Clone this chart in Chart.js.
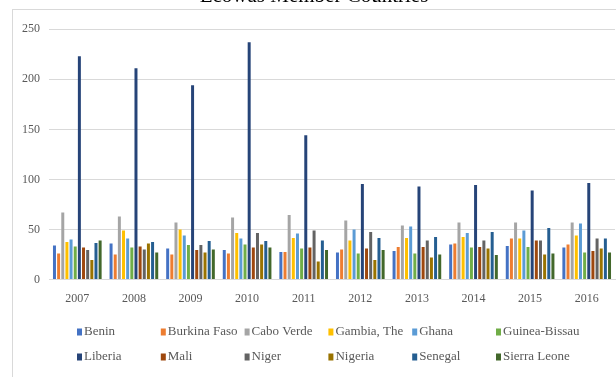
<!DOCTYPE html>
<html>
<head>
<meta charset="utf-8">
<script src="https://cdn.jsdelivr.net/npm/chart.js@4"></script>
<style>
  html, body { margin: 0; padding: 0; background: #fff; }
  #wrap { width: 616px; height: 377px; }
</style>
</head>
<body>
<div id="wrap"><canvas id="grafico" width="616" height="377"></canvas></div>
<script>
// Anos (categorias do eixo X)
const anos = ['2007', '2008', '2009', '2010', '2011', '2012', '2013', '2014', '2015', '2016'];

// Valores, um array por país
const benin        = [34, 36, 31, 29.5, 27.5, 27, 28.5, 35, 33.5, 32];
const burkinaFaso  = [26, 25, 25, 26, 27.5, 30, 32.5, 36, 41, 35];
const caboVerde    = [67, 63, 57, 62, 64.5, 59, 54, 57, 57, 57];
const gambia       = [37.5, 49, 50, 46.5, 41.5, 39, 41.5, 42.5, 41, 44];
const ghana        = [40, 41, 44, 41, 46, 50, 53, 46.5, 49, 56];
const guineaBissau = [33, 32, 34.5, 35, 31, 26, 26, 32, 32.5, 27];
const liberia      = [223, 211, 194, 237, 144, 95.5, 93, 94.5, 89, 96.5];
const mali         = [32, 33, 29.5, 32, 32, 31, 32.5, 32.5, 39, 28.5];
const niger        = [29.5, 30, 34.5, 46.5, 49, 47.5, 39, 39, 39, 41];
const nigeria      = [19.5, 36, 27, 35, 18, 19.5, 22, 31, 25, 31];
const senegal      = [36.5, 37.5, 38.5, 38.5, 39, 41.5, 42.5, 47.5, 51.5, 41];
const serraLeoa    = [39, 27, 30, 32, 29.5, 29.5, 25, 24.5, 26, 27];

// Ticks do eixo Y
const ticksY = [0, 50, 100, 150, 200, 250];

const paises = ['Benin', 'Burkina Faso', 'Cabo Verde', 'Gambia, The', 'Ghana', 'Guinea-Bissau',
                'Liberia', 'Mali', 'Niger', 'Nigeria', 'Senegal', 'Sierra Leone'];
const valores = [benin, burkinaFaso, caboVerde, gambia, ghana, guineaBissau,
                 liberia, mali, niger, nigeria, senegal, serraLeoa];
const cores = ['#4472C4', '#ED7D31', '#A5A5A5', '#FFC000', '#5B9BD5', '#70AD47',
               '#264478', '#9E480E', '#636363', '#997300', '#255E91', '#43682B'];

// Moldura cinza e legenda em grade (estilo Excel)
const moldura = {
  id: 'moldura',
  beforeDraw(chart) {
    const c = chart.ctx;
    c.save();
    c.fillStyle = '#fff';
    c.fillRect(0, 0, chart.width, chart.height);
    c.strokeStyle = '#d9d9d9';
    c.lineWidth = 1;
    c.strokeRect(12.5, 9.5, 1000, 1000);
    c.restore();
  },
  afterDraw(chart) {
    const c = chart.ctx;
    c.save();
    c.font = '13px "Liberation Serif"';
    c.textBaseline = 'middle';
    chart.data.datasets.forEach((ds, i) => {
      const col = i % 6, row = Math.floor(i / 6);
      const x = 77 + col * 83.8;
      const y = 332 + row * 25;
      c.fillStyle = ds.backgroundColor;
      c.fillRect(x, y - 3.5, 5, 7);
      c.fillStyle = '#595959';
      c.fillText(ds.label, x + 7, y);
    });
    c.restore();
  }
};

const ctx = document.getElementById('grafico').getContext('2d');
new Chart(ctx, {
  type: 'bar',
  data: {
    labels: anos,
    datasets: paises.map((p, i) => ({
      label: p,
      data: valores[i],
      backgroundColor: cores[i],
      categoryPercentage: 0.88,
      barPercentage: 0.72
    }))
  },
  options: {
    responsive: false,
    animation: false,
    layout: { padding: { left: 13, right: 1, top: 0, bottom: 59 } },
    plugins: {
      legend: { display: false },
      tooltip: { enabled: false },
      title: {
        display: true,
        text: 'Ecowas Member Countries',
        color: '#000',
        font: { family: '"Liberation Serif"', size: 21, weight: 'normal' },
        padding: { top: -16, bottom: 20 }
      }
    },
    scales: {
      x: {
        grid: { display: false, drawTicks: false },
        border: { display: true, color: '#d9d9d9' },
        ticks: { color: '#595959', font: { family: '"Liberation Serif"', size: 12 }, padding: 12 }
      },
      y: {
        min: 0,
        max: 250,
        afterBuildTicks: (axis) => { axis.ticks = ticksY.map(v => ({ value: v })); },
        grid: { color: '#d9d9d9', drawTicks: false },
        border: { display: false },
        ticks: { color: '#595959', font: { family: '"Liberation Serif"', size: 12 }, padding: 9 }
      }
    }
  },
  plugins: [moldura]
});
</script>
</body>
</html>
